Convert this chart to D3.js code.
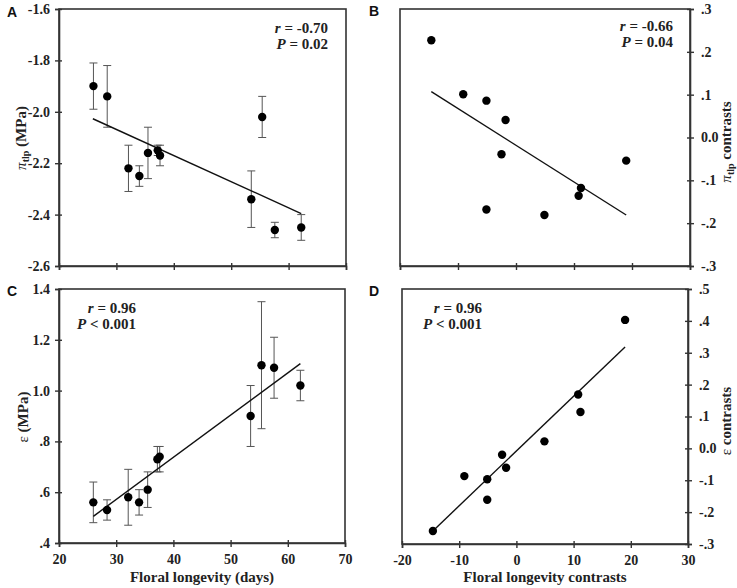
<!DOCTYPE html>
<html>
<head>
<meta charset="utf-8">
<script src="https://cdn.jsdelivr.net/npm/d3@7"></script>
<style>
  body { margin: 0; background: #fff; }
  svg { display: block; }
  text { font-family: "Liberation Serif", "Times New Roman", serif; font-weight: bold; fill: #222; }
  .letter { font-family: "Liberation Sans", Arial, sans-serif; font-weight: bold; font-size: 14px; fill: #111; }
</style>
</head>
<body>
<svg id="chart" width="737" height="588"></svg>
<script>
// ---------- Data ----------
// Floral longevity (days), species means (panels A & C)
const longevity = [26.0, 28.4, 32.1, 34.0, 35.5, 37.2, 37.6, 53.5, 55.4, 57.6, 62.2];
// Panel A: turgor loss point (MPa), with error bar ends
const piTlp     = [-1.90, -1.94, -2.22, -2.25, -2.16, -2.15, -2.17, -2.34, -2.02, -2.46, -2.45];
const piTlpHi   = [-1.81, -1.82, -2.13, -2.21, -2.06, -2.13, -2.13, -2.23, -1.94, -2.43, -2.40];
const piTlpLo   = [-1.99, -2.06, -2.31, -2.29, -2.26, -2.17, -2.21, -2.45, -2.10, -2.49, -2.50];
// Panel C: bulk modulus of elasticity (MPa), with error bar ends
const eps       = [0.56, 0.53, 0.58, 0.56, 0.61, 0.73, 0.74, 0.90, 1.10, 1.09, 1.02];
const epsHi     = [0.64, 0.57, 0.69, 0.61, 0.68, 0.78, 0.78, 1.02, 1.35, 1.21, 1.08];
const epsLo     = [0.48, 0.49, 0.47, 0.51, 0.54, 0.68, 0.68, 0.78, 0.85, 0.97, 0.96];
// Phylogenetic contrasts (panels B & D)
const longevityContrasts = [-14.6, -9.1, -5.1, -5.1, -2.5, -1.8, 4.9, 10.8, 11.2, 19.0];
const piTlpContrasts     = [0.227, 0.101, 0.086, -0.168, -0.039, 0.041, -0.181, -0.136, -0.118, -0.054];
const epsContrasts       = [-0.259, -0.087, -0.097, -0.161, -0.020, -0.061, 0.022, 0.169, 0.114, 0.403];
// Regression line end points [x1, y1, x2, y2]
const fitA = [25.9, -2.027, 62.2, -2.396];
const fitB = [-14.6, 0.107, 19.0, -0.181];
const fitC = [26.0, 0.505, 62.2, 1.106];
const fitD = [-14.6, -0.259, 19.0, 0.318];
// Tick values and labels
const xTicksDays = [20, 30, 40, 50, 60, 70];
const xTicksContr = [-20, -10, 0, 10, 20, 30];
const yTicksA = [-1.6, -1.8, -2.0, -2.2, -2.4, -2.6];
const yTicksB = [0.3, 0.2, 0.1, 0.0, -0.1, -0.2, -0.3];
const yTicksC = [1.4, 1.2, 1.0, 0.8, 0.6, 0.4];
const yTicksD = [0.5, 0.4, 0.3, 0.2, 0.1, 0.0, -0.1, -0.2, -0.3];

const fmtInt = v => String(Math.round(v));                  // "-20", "0", "10"
const fmtOne = v => v.toFixed(1);                           // "-1.6", "1.0"
const fmtDec = v => {                                       // ".3", "0.0", "-.1"
  if (Math.abs(v) < 1e-9) return "0.0";
  return v.toFixed(1).replace(/^(-?)0\./, "$1.");
};

// ---------- Drawing ----------
const svg = d3.select("#chart");
const AXIS = "#333";
const SERIF = '"Liberation Serif", "Times New Roman", serif';

function panel(opt) {
  const g = svg.append("g");
  const x = d3.scaleLinear().domain(opt.xDomain).range([opt.left, opt.right]);
  const y = d3.scaleLinear().domain(opt.yDomain).range([opt.bottom, opt.top]);

  // frame
  g.append("rect").attr("x", opt.left).attr("y", opt.top)
    .attr("width", opt.right - opt.left).attr("height", opt.bottom - opt.top)
    .attr("fill", "none").attr("stroke", AXIS).attr("stroke-width", 1.6);

  // x axis
  const xAxis = d3.axisBottom(x).tickValues(opt.xTicks).tickSize(4)
    .tickFormat(opt.xLabels ? fmtInt : () => "");
  const gx = g.append("g").attr("transform", `translate(0,${opt.bottom})`).call(xAxis);
  gx.attr("font-family", null).attr("font-size", null);
  gx.select(".domain").attr("stroke", AXIS).attr("stroke-width", 1.6);
  gx.selectAll(".tick line").attr("stroke", AXIS).attr("stroke-width", 1.4).attr("y1", -3).attr("y2", 4);
  gx.selectAll(".tick text")
    .style("font-family", SERIF).style("font-weight", "bold").style("font-size", "14px")
    .style("fill", "#222").attr("y", 21).attr("dy", 0);

  // y axis
  const yAxis = (opt.yRight ? d3.axisRight(y) : d3.axisLeft(y))
    .tickValues(opt.yTicks).tickSize(4).tickPadding(opt.yRight ? 7 : 5).tickFormat(opt.yFmt);
  const gy = g.append("g")
    .attr("transform", `translate(${opt.yRight ? opt.right : opt.left},0)`).call(yAxis);
  gy.attr("font-family", null).attr("font-size", null);
  gy.select(".domain").attr("stroke", AXIS).attr("stroke-width", 1.6);
  gy.selectAll(".tick line").attr("stroke", AXIS).attr("stroke-width", 1.4)
    .attr("x1", opt.yRight ? -3 : 3);
  gy.selectAll(".tick text")
    .style("font-family", SERIF).style("font-weight", "bold").style("font-size", "14px")
    .style("fill", "#222");

  // error bars
  if (opt.hi) {
    const eb = g.append("g").attr("stroke", "#555").attr("stroke-width", 1);
    opt.xs.forEach((xv, i) => {
      const cx = x(xv);
      eb.append("line").attr("x1", cx).attr("x2", cx).attr("y1", y(opt.hi[i])).attr("y2", y(opt.lo[i]));
      eb.append("line").attr("x1", cx - 4).attr("x2", cx + 4).attr("y1", y(opt.hi[i])).attr("y2", y(opt.hi[i]));
      eb.append("line").attr("x1", cx - 4).attr("x2", cx + 4).attr("y1", y(opt.lo[i])).attr("y2", y(opt.lo[i]));
    });
  }

  // regression line
  g.append("line")
    .attr("x1", x(opt.fit[0])).attr("y1", y(opt.fit[1]))
    .attr("x2", x(opt.fit[2])).attr("y2", y(opt.fit[3]))
    .attr("stroke", "#111").attr("stroke-width", 1.4);

  // points
  g.append("g").selectAll("circle").data(opt.xs).join("circle")
    .attr("cx", d => x(d)).attr("cy", (d, i) => y(opt.ys[i])).attr("r", 4.2).attr("fill", "#000");

  // stats annotation
  const ann = g.append("text").attr("font-size", 15).attr("text-anchor", "end");
  ann.append("tspan").attr("x", opt.annX).attr("y", opt.annY)
    .html(`<tspan font-style="italic">r</tspan> = ${opt.r}`);
  ann.append("tspan").attr("x", opt.annX).attr("y", opt.annY + 16)
    .html(`<tspan font-style="italic">P</tspan> ${opt.p}`);

  // panel letter
  svg.append("text").attr("class", "letter").attr("x", opt.letterX).attr("y", opt.letterY).text(opt.letter);

  // y title
  const yt = svg.append("text").attr("font-size", 15).attr("text-anchor", "middle")
    .attr("transform", `translate(${opt.yTitleX},${opt.yTitleY}) rotate(-90)`);
  yt.html(opt.yTitle);

  // x title
  if (opt.xTitle) {
    svg.append("text").attr("font-size", 15).attr("text-anchor", "middle")
      .attr("x", (opt.left + opt.right) / 2).attr("y", opt.xTitleY).text(opt.xTitle);
  }
}

const PI = '<tspan style="font-weight:normal;font-style:italic">π</tspan><tspan font-size="10" dy="3">tlp</tspan>';

panel({
  letter: "A", letterX: 7, letterY: 17,
  left: 59, right: 346, top: 9, bottom: 266,
  xDomain: [20, 70], yDomain: [-2.6, -1.6],
  xTicks: xTicksDays, xLabels: false,
  yTicks: yTicksA, yFmt: fmtOne,
  xs: longevity, ys: piTlp, hi: piTlpHi, lo: piTlpLo, fit: fitA,
  r: "-0.70", p: "= 0.02", annX: 328, annY: 33,
  yTitle: PI + '<tspan dy="-3"> (MPa)</tspan>',
  yTitleX: 26, yTitleY: 138
});

panel({
  letter: "B", letterX: 369, letterY: 16,
  left: 400, right: 690, top: 9, bottom: 266,
  xDomain: [-20, 30], yDomain: [-0.3, 0.3],
  xTicks: xTicksContr, xLabels: false,
  yTicks: yTicksB, yFmt: fmtDec, yRight: true,
  xs: longevityContrasts, ys: piTlpContrasts, fit: fitB,
  r: "-0.66", p: "= 0.04", annX: 673, annY: 31,
  yTitle: PI + '<tspan dy="-3"> contrasts</tspan>',
  yTitleX: 731, yTitleY: 142
});

panel({
  letter: "C", letterX: 7, letterY: 296,
  left: 59, right: 345, top: 289, bottom: 543,
  xDomain: [20, 70], yDomain: [0.4, 1.4],
  xTicks: xTicksDays, xLabels: true,
  yTicks: yTicksC, yFmt: fmtDec,
  xs: longevity, ys: eps, hi: epsHi, lo: epsLo, fit: fitC,
  r: "0.96", p: "&lt; 0.001", annX: 136, annY: 313,
  yTitle: '<tspan font-weight="normal">ε</tspan> (MPa)',
  yTitleX: 28, yTitleY: 417,
  xTitle: "Floral longevity (days)", xTitleY: 582
});

panel({
  letter: "D", letterX: 369, letterY: 296,
  left: 402, right: 688, top: 289, bottom: 544,
  xDomain: [-20, 30], yDomain: [-0.3, 0.5],
  xTicks: xTicksContr, xLabels: true,
  yTicks: yTicksD, yFmt: fmtDec, yRight: true,
  xs: longevityContrasts, ys: epsContrasts, fit: fitD,
  r: "0.96", p: "&lt; 0.001", annX: 482, annY: 313,
  yTitle: '<tspan font-weight="normal">ε</tspan> contrasts',
  yTitleX: 731, yTitleY: 421,
  xTitle: "Floral longevity contrasts", xTitleY: 582
});
</script>
</body>
</html>
